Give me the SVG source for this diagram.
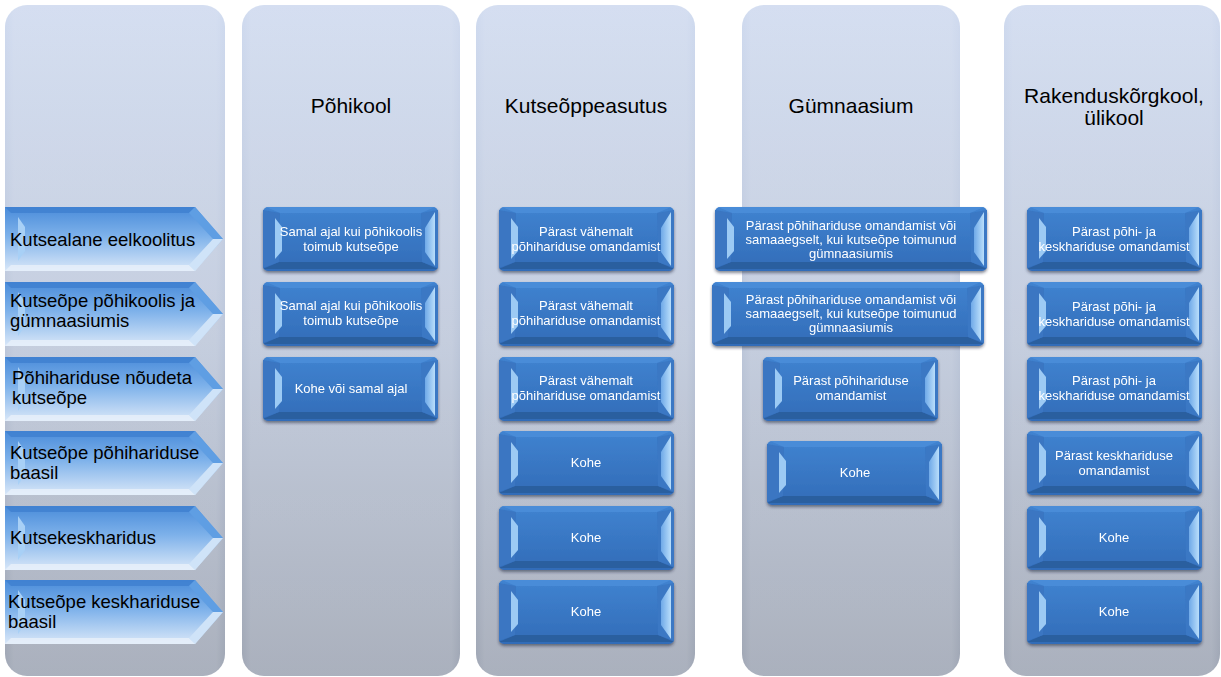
<svg xmlns="http://www.w3.org/2000/svg" xmlns:xlink="http://www.w3.org/1999/xlink" width="1221" height="677" viewBox="0 0 1221 677">
  <style>
    .hdr { font-family: "Liberation Sans", Arial, sans-serif; font-size: 21px; fill: #000; text-anchor: middle; }
    .lbl { font-family: "Liberation Sans", Arial, sans-serif; font-size: 18.5px; fill: #000; }
    .btxt { font-family: "Liberation Sans", Arial, sans-serif; font-size: 13px; fill: #fff; text-anchor: middle; }
  </style>
  <defs>
    <linearGradient id="panelG" x1="0" y1="0" x2="0" y2="1">
      <stop offset="0" stop-color="#cfdaef"/>
      <stop offset="0.5" stop-color="#bdc7da"/>
      <stop offset="1" stop-color="#9fa6b4"/>
    </linearGradient>
    <linearGradient id="panelEdge" x1="0" y1="0" x2="1" y2="0">
      <stop offset="0" stop-color="#ffffff" stop-opacity="0"/>
      <stop offset="0.04" stop-color="#ffffff" stop-opacity="0.12"/>
      <stop offset="0.96" stop-color="#ffffff" stop-opacity="0.12"/>
      <stop offset="1" stop-color="#ffffff" stop-opacity="0"/>
    </linearGradient>
    <linearGradient id="btnG" x1="0" y1="0" x2="0" y2="1">
      <stop offset="0" stop-color="#4083d0"/>
      <stop offset="1" stop-color="#326cb8"/>
    </linearGradient>
    <linearGradient id="chevG" x1="0" y1="0" x2="0" y2="1">
      <stop offset="0" stop-color="#4a8cda"/>
      <stop offset="0.45" stop-color="#7db1ea"/>
      <stop offset="1" stop-color="#d9e7f8"/>
    </linearGradient>
    <linearGradient id="hiG" x1="0" y1="0" x2="1" y2="0">
      <stop offset="0" stop-color="#6fa9e8"/>
      <stop offset="1" stop-color="#b9defb"/>
    </linearGradient>
    <filter id="shadow" x="-10%" y="-20%" width="120%" height="150%">
      <feDropShadow dx="0" dy="2" stdDeviation="1.8" flood-color="#1a2a40" flood-opacity="0.55"/>
    </filter>
    <g id="btn">
      <rect x="0" y="0" width="175" height="64" rx="5" fill="url(#btnG)"/>
      <polygon points="3,0 172,0 158,6 17,6" fill="#4a8cd8"/>
      <polygon points="0,62 175,62 159,55 16,55" fill="#2b5e9f"/>
      <polygon points="0,3 17,6 16,55 0,61" fill="#3a76c2"/>
      <polygon points="175,3 158,6 159,55 175,61" fill="#3a78c4"/>
      <polygon points="12,11 19,20 19,44 12,52" fill="#9ccaf4"/>
      <polygon points="172,5 162,21 162,45 172,59" fill="url(#hiG)"/>
    </g>
    <g id="btnw">
      <rect x="0" y="0" width="272" height="64" rx="5" fill="url(#btnG)"/>
      <polygon points="3,0 269,0 255,6 17,6" fill="#4a8cd8"/>
      <polygon points="0,62 272,62 256,55 16,55" fill="#2b5e9f"/>
      <polygon points="0,3 17,6 16,55 0,61" fill="#3a76c2"/>
      <polygon points="272,3 255,6 256,55 272,61" fill="#3a78c4"/>
      <polygon points="12,11 19,20 19,44 12,52" fill="#9ccaf4"/>
      <polygon points="269,5 259,21 259,45 269,59" fill="url(#hiG)"/>
    </g>
    <g id="chev">
      <polygon points="0,0 190,0 218,32 190,64 0,64" fill="url(#chevG)"/>
      <polygon points="0,0 190,0 184,6 6,6" fill="#3f80cf" opacity="0.8"/>
      <polygon points="0,64 190,64 184,58 6,58" fill="#e6eefa" opacity="0.9"/>
      <polygon points="190,0 218,32 208,32 184,6" fill="#5f9ee3"/>
      <polygon points="190,64 218,32 208,32 184,58" fill="#cfe3f8"/>
      <polygon points="13,10 20,20 20,44 13,54" fill="#a8d0f6"/>
    </g>
  </defs>

  <g id="panels">
    <g id="panel-1">
      <rect x="5" y="5" width="220" height="671" rx="22" fill="url(#panelG)"/>
      <rect x="5" y="5" width="220" height="671" rx="22" fill="url(#panelEdge)"/>
    </g>
    <g id="panel-2">
      <rect x="242" y="5" width="218" height="671" rx="22" fill="url(#panelG)"/>
      <rect x="242" y="5" width="218" height="671" rx="22" fill="url(#panelEdge)"/>
      <text class="hdr" x="351" y="113">Põhikool</text>
    </g>
    <g id="panel-3">
      <rect x="476" y="5" width="219" height="671" rx="22" fill="url(#panelG)"/>
      <rect x="476" y="5" width="219" height="671" rx="22" fill="url(#panelEdge)"/>
      <text class="hdr" x="586" y="113">Kutseõppeasutus</text>
    </g>
    <g id="panel-4">
      <rect x="742" y="5" width="218" height="671" rx="22" fill="url(#panelG)"/>
      <rect x="742" y="5" width="218" height="671" rx="22" fill="url(#panelEdge)"/>
      <text class="hdr" x="851" y="113">Gümnaasium</text>
    </g>
    <g id="panel-5">
      <rect x="1004" y="5" width="216" height="671" rx="22" fill="url(#panelG)"/>
      <rect x="1004" y="5" width="216" height="671" rx="22" fill="url(#panelEdge)"/>
      <text class="hdr" x="1114" y="103">Rakenduskõrgkool,</text>
      <text class="hdr" x="1114" y="125">ülikool</text>
    </g>
  </g>

  <g id="connectors"></g>

  <g id="rows">
    <g id="row-1">
      <use xlink:href="#chev" href="#chev" x="5" y="207"/>
      <text class="lbl" x="10" y="246">Kutsealane eelkoolitus</text>
    </g>
    <g id="row-2">
      <use xlink:href="#chev" href="#chev" x="5" y="282"/>
      <text class="lbl" x="10" y="307">Kutseõpe põhikoolis ja</text>
      <text class="lbl" x="10" y="327">gümnaasiumis</text>
    </g>
    <g id="row-3">
      <use xlink:href="#chev" href="#chev" x="5" y="357"/>
      <text class="lbl" x="12" y="384">Põhihariduse nõudeta</text>
      <text class="lbl" x="12" y="404">kutseõpe</text>
    </g>
    <g id="row-4">
      <use xlink:href="#chev" href="#chev" x="5" y="431"/>
      <text class="lbl" x="10" y="459">Kutseõpe põhihariduse</text>
      <text class="lbl" x="10" y="479">baasil</text>
    </g>
    <g id="row-5">
      <use xlink:href="#chev" href="#chev" x="5" y="506"/>
      <text class="lbl" x="10" y="544">Kutsekeskharidus</text>
    </g>
    <g id="row-6">
      <use xlink:href="#chev" href="#chev" x="5" y="580"/>
      <text class="lbl" x="8" y="608">Kutseõpe keskhariduse</text>
      <text class="lbl" x="8" y="628">baasil</text>
    </g>
  </g>

  <g id="pohikool-boxes">
    <g id="pk-1" filter="url(#shadow)">
      <use xlink:href="#btn" href="#btn" x="263" y="207"/>
      <text class="btxt" x="351" y="236">Samal ajal kui põhikoolis</text>
      <text class="btxt" x="351" y="251">toimub kutseõpe</text>
    </g>
    <g id="pk-2" filter="url(#shadow)">
      <use xlink:href="#btn" href="#btn" x="263" y="282"/>
      <text class="btxt" x="351" y="310">Samal ajal kui põhikoolis</text>
      <text class="btxt" x="351" y="325">toimub kutseõpe</text>
    </g>
    <g id="pk-3" filter="url(#shadow)">
      <use xlink:href="#btn" href="#btn" x="263" y="357"/>
      <text class="btxt" x="351" y="393">Kohe või samal ajal</text>
    </g>
  </g>

  <g id="kutse-boxes">
    <g id="ko-1" filter="url(#shadow)">
      <use xlink:href="#btn" href="#btn" x="499" y="207"/>
      <text class="btxt" x="586" y="236">Pärast vähemalt</text>
      <text class="btxt" x="586" y="251">põhihariduse omandamist</text>
    </g>
    <g id="ko-2" filter="url(#shadow)">
      <use xlink:href="#btn" href="#btn" x="499" y="282"/>
      <text class="btxt" x="586" y="310">Pärast vähemalt</text>
      <text class="btxt" x="586" y="325">põhihariduse omandamist</text>
    </g>
    <g id="ko-3" filter="url(#shadow)">
      <use xlink:href="#btn" href="#btn" x="499" y="357"/>
      <text class="btxt" x="586" y="385">Pärast vähemalt</text>
      <text class="btxt" x="586" y="400">põhihariduse omandamist</text>
    </g>
    <g id="ko-4" filter="url(#shadow)">
      <use xlink:href="#btn" href="#btn" x="499" y="431"/>
      <text class="btxt" x="586" y="467">Kohe</text>
    </g>
    <g id="ko-5" filter="url(#shadow)">
      <use xlink:href="#btn" href="#btn" x="499" y="506"/>
      <text class="btxt" x="586" y="542">Kohe</text>
    </g>
    <g id="ko-6" filter="url(#shadow)">
      <use xlink:href="#btn" href="#btn" x="499" y="580"/>
      <text class="btxt" x="586" y="616">Kohe</text>
    </g>
  </g>

  <g id="gymn-boxes">
    <g id="gy-1" filter="url(#shadow)">
      <use xlink:href="#btnw" href="#btnw" x="715" y="207"/>
      <text class="btxt" x="851" y="230">Pärast põhihariduse omandamist või</text>
      <text class="btxt" x="851" y="244">samaaegselt, kui kutseõpe toimunud</text>
      <text class="btxt" x="851" y="258">gümnaasiumis</text>
    </g>
    <g id="gy-2" filter="url(#shadow)">
      <use xlink:href="#btnw" href="#btnw" x="712" y="282"/>
      <text class="btxt" x="851" y="304">Pärast põhihariduse omandamist või</text>
      <text class="btxt" x="851" y="318">samaaegselt, kui kutseõpe toimunud</text>
      <text class="btxt" x="851" y="332">gümnaasiumis</text>
    </g>
    <g id="gy-3" filter="url(#shadow)">
      <use xlink:href="#btn" href="#btn" x="763" y="357"/>
      <text class="btxt" x="851" y="385">Pärast põhihariduse</text>
      <text class="btxt" x="851" y="400">omandamist</text>
    </g>
    <g id="gy-4" filter="url(#shadow)">
      <use xlink:href="#btn" href="#btn" x="767" y="441"/>
      <text class="btxt" x="855" y="477">Kohe</text>
    </g>
  </g>

  <g id="kk-boxes">
    <g id="kk-1" filter="url(#shadow)">
      <use xlink:href="#btn" href="#btn" x="1027" y="207"/>
      <text class="btxt" x="1114" y="236">Pärast põhi- ja</text>
      <text class="btxt" x="1114" y="251">keskhariduse omandamist</text>
    </g>
    <g id="kk-2" filter="url(#shadow)">
      <use xlink:href="#btn" href="#btn" x="1027" y="282"/>
      <text class="btxt" x="1114" y="311">Pärast põhi- ja</text>
      <text class="btxt" x="1114" y="326">keskhariduse omandamist</text>
    </g>
    <g id="kk-3" filter="url(#shadow)">
      <use xlink:href="#btn" href="#btn" x="1027" y="357"/>
      <text class="btxt" x="1114" y="385">Pärast põhi- ja</text>
      <text class="btxt" x="1114" y="400">keskhariduse omandamist</text>
    </g>
    <g id="kk-4" filter="url(#shadow)">
      <use xlink:href="#btn" href="#btn" x="1027" y="431"/>
      <text class="btxt" x="1114" y="460">Pärast keskhariduse</text>
      <text class="btxt" x="1114" y="475">omandamist</text>
    </g>
    <g id="kk-5" filter="url(#shadow)">
      <use xlink:href="#btn" href="#btn" x="1027" y="506"/>
      <text class="btxt" x="1114" y="542">Kohe</text>
    </g>
    <g id="kk-6" filter="url(#shadow)">
      <use xlink:href="#btn" href="#btn" x="1027" y="580"/>
      <text class="btxt" x="1114" y="616">Kohe</text>
    </g>
  </g>
</svg>
